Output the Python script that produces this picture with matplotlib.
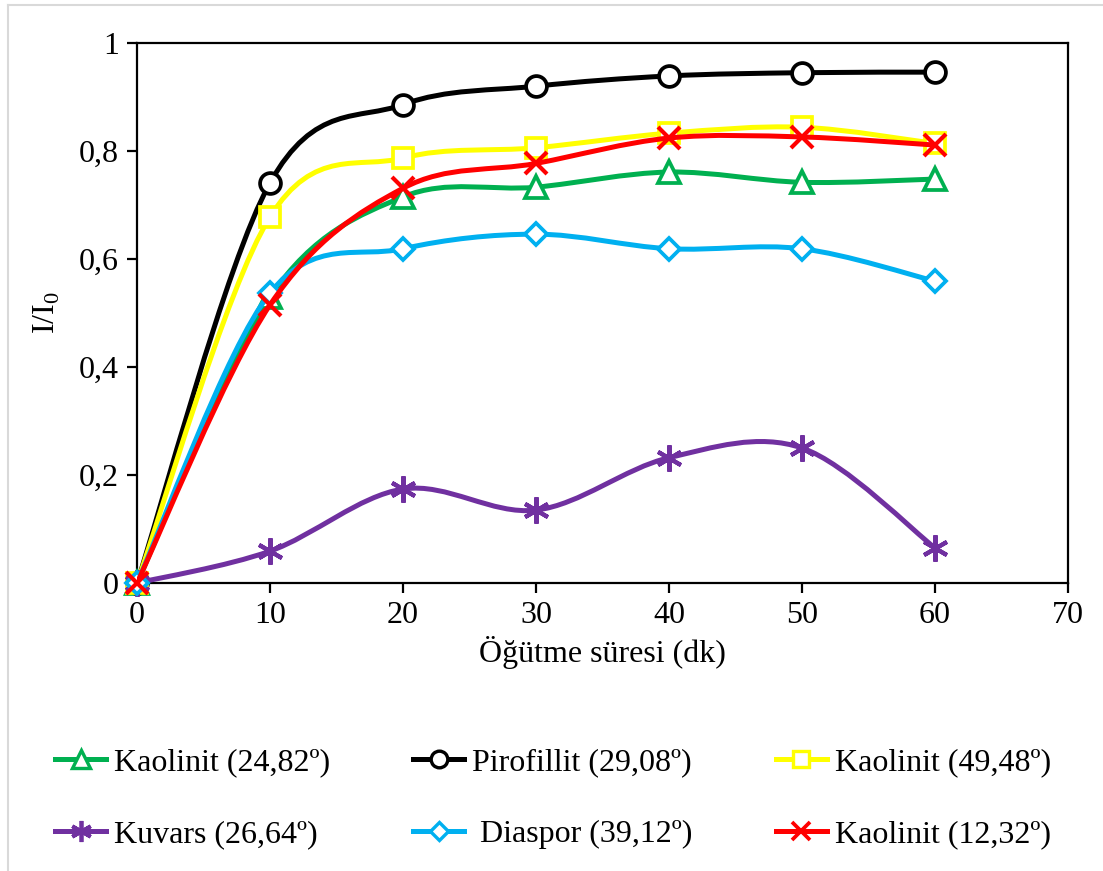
import numpy as np
import matplotlib
matplotlib.use("Agg")
import matplotlib.pyplot as plt
from matplotlib.path import Path
from matplotlib.patches import PathPatch
from matplotlib.lines import Line2D

plt.rcParams["font.family"] = ["Liberation Serif", "DejaVu Serif"]
plt.rcParams["mathtext.fontset"] = "custom"
plt.rcParams["mathtext.rm"] = "Liberation Serif"
plt.rcParams["font.size"] = 23

# Data
minutes = [0, 10, 20, 30, 40, 50, 60]
kaolinit_2482 = [0, 0.53, 0.715, 0.733, 0.761, 0.742, 0.748]
pirofillit_2908 = [0, 0.741, 0.886, 0.920, 0.939, 0.945, 0.946]
kaolinit_4948 = [0, 0.678, 0.787, 0.806, 0.833, 0.844, 0.814]
kuvars_2664 = [0, 0.059, 0.174, 0.135, 0.232, 0.250, 0.065]
diaspor_3912 = [0, 0.537, 0.619, 0.646, 0.619, 0.619, 0.559]
kaolinit_1232 = [0, 0.515, 0.731, 0.777, 0.824, 0.826, 0.811]

labels = ["Kaolinit (24,82º)", "Pirofillit (29,08º)", "Kaolinit (49,48º)",
          "Kuvars (26,64º)", " Diaspor (39,12º)", "Kaolinit (12,32º)"]
series = [kaolinit_2482, pirofillit_2908, kaolinit_4948,
          kuvars_2664, diaspor_3912, kaolinit_1232]
colors = ["#00B050", "#000000", "#FFFF00", "#7030A0", "#00B0F0", "#FF0000"]
markers = ["^", "o", "s", (6, 2, 0), "D", "x"]
msizes = [16, 15, 15, 19, 11, 16]
mews = [2.7, 2.7, 2.7, 3.0, 2.7, 3.0]


def smooth_path(xs, ys):
    # Excel-like smoothed line: cubic Bezier through every point
    pts = np.column_stack([xs, ys]).astype(float)
    n = len(pts)
    verts = [pts[0]]
    codes = [Path.MOVETO]
    for i in range(n - 1):
        p0 = pts[i - 1] if i > 0 else pts[i]
        p1 = pts[i]
        p2 = pts[i + 1]
        p3 = pts[i + 2] if i + 2 < n else pts[i + 1]
        c1 = p1 + (p2 - p0) / 6.0
        c2 = p2 - (p3 - p1) / 6.0
        verts += [c1, c2, p2]
        codes += [Path.CURVE4] * 3
    return Path(verts, codes)


fig = plt.figure(figsize=(11.03, 8.71), dpi=100)
ax = fig.add_axes([137 / 1103, 1 - 583 / 871, (1068 - 137) / 1103, (583 - 43) / 871])

handles = []
for i, (ys, col, mk, ms, mew) in enumerate(zip(series, colors, markers, msizes, mews)):
    patch = PathPatch(smooth_path(minutes, ys), fill=False, edgecolor=col,
                      lw=3.6, zorder=2 + 2 * i, capstyle="round")
    ax.add_patch(patch)
    ax.plot(minutes, ys, linestyle="none", marker=mk, markersize=ms,
            markerfacecolor="white" if mk not in ("x", (6, 2, 0)) else col,
            markeredgecolor=col, markeredgewidth=mew, zorder=3 + 2 * i,
            clip_on=False)
    handles.append(Line2D([], [], color=col, lw=3.6, marker=mk, markersize=ms * 0.8,
                          markerfacecolor="white", markeredgecolor=col,
                          markeredgewidth=mew * 0.9))

ax.set_xlim(0, 70)
ax.set_ylim(0, 1)
ax.set_xticks(range(0, 71, 10))
ax.set_yticks([0, 0.2, 0.4, 0.6, 0.8, 1.0])
ax.set_yticklabels(["0", "0,2", "0,4", "0,6", "0,8", "1"])
ax.tick_params(direction="out", length=7, width=1.6, pad=6)
for sp in ax.spines.values():
    sp.set_linewidth(1.6)

ax.set_xlabel("Öğütme süresi (dk)", labelpad=4)
ax.set_ylabel(r"I/I$_\mathregular{0}$", labelpad=12)

# legend is filled column by column, so reorder to read row by row
order = [0, 3, 1, 4, 2, 5]
fig.legend([handles[k] for k in order], [labels[k] for k in order], ncol=3,
           loc="upper left", bbox_to_anchor=(55 / 1103, 1 - 748 / 871), frameon=False,
           handlelength=1.6, handletextpad=0.25, columnspacing=2.6,
           labelspacing=1.32, borderpad=0, borderaxespad=0)

# light chart-area border (left and top edges are visible in the reference)
fig.add_artist(Line2D([8 / 1103, 8 / 1103], [0, 1 - 5 / 871], color="#d9d9d9", lw=1.5))
fig.add_artist(Line2D([8 / 1103, 1], [1 - 5 / 871, 1 - 5 / 871], color="#d9d9d9", lw=1.5))

fig.savefig("out.png", dpi=100)
